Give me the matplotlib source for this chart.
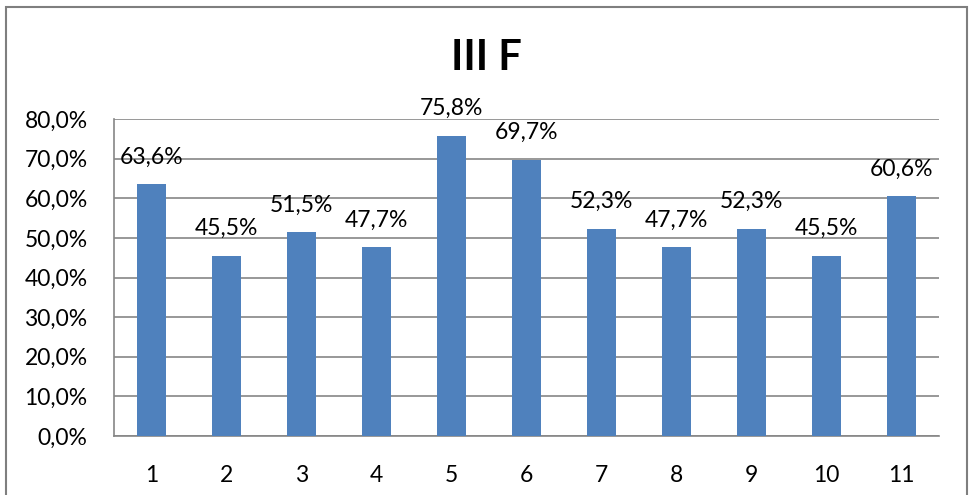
import matplotlib.pyplot as plt
from matplotlib.patches import Rectangle
from matplotlib.ticker import FuncFormatter, MultipleLocator

plt.rcParams["font.family"] = ["Lato", "DejaVu Sans"]

CATEGORIES = ["1", "2", "3", "4", "5", "6", "7", "8", "9", "10", "11"]
VALUES = [63.6, 45.5, 51.5, 47.7, 75.8, 69.7, 52.3, 47.7, 52.3, 45.5, 60.6]
TITLE = "III F"

BAR_COLOR = "#4F81BD"
GRID_COLOR = "#868686"

W, H = 969, 495
fig = plt.figure(figsize=(W / 100, H / 100), dpi=100)
# plot area in pixels: left 114, right 939, top 119, bottom 436
ax = fig.add_axes([114 / W, 1 - 436 / H, (939 - 114) / W, (436 - 119) / H])

x = list(range(len(CATEGORIES)))
ax.bar(x, VALUES, width=0.39, color=BAR_COLOR, zorder=3)

ax.set_xlim(-0.5, len(CATEGORIES) - 0.5)
ax.set_ylim(0, 80)
ax.yaxis.set_major_locator(MultipleLocator(10))
ax.yaxis.set_major_formatter(FuncFormatter(lambda v, _: f"{v:.1f}%".replace(".", ",")))
ax.set_xticks(x)
ax.set_xticklabels(CATEGORIES)

ax.grid(True, axis="y", color=GRID_COLOR, linewidth=1.2, zorder=0)
for side in ("top", "right"):
    ax.spines[side].set_visible(False)
for side in ("left", "bottom"):
    ax.spines[side].set_color(GRID_COLOR)
    ax.spines[side].set_linewidth(1.2)
ax.tick_params(axis="both", length=0, labelsize=16.5)
ax.tick_params(axis="y", pad=19)
ax.tick_params(axis="x", pad=21)

for xi, v in zip(x, VALUES):
    ax.annotate(f"{v:.1f}%".replace(".", ","), (xi, v), xytext=(0, 27),
                textcoords="offset pixels", ha="center", va="center",
                fontsize=16.5, zorder=4)

fig.text(486 / W, 1 - 58 / H, TITLE, ha="center", va="center",
         fontsize=30, fontweight="bold")

# outer chart frame
fig.patches.append(Rectangle((6 / W, -10 / H), (967 - 6) / W, (488 + 10) / H,
                             transform=fig.transFigure, fill=False,
                             edgecolor="#7f7f7f", linewidth=1.5))

fig.savefig("out.png", dpi=100)
